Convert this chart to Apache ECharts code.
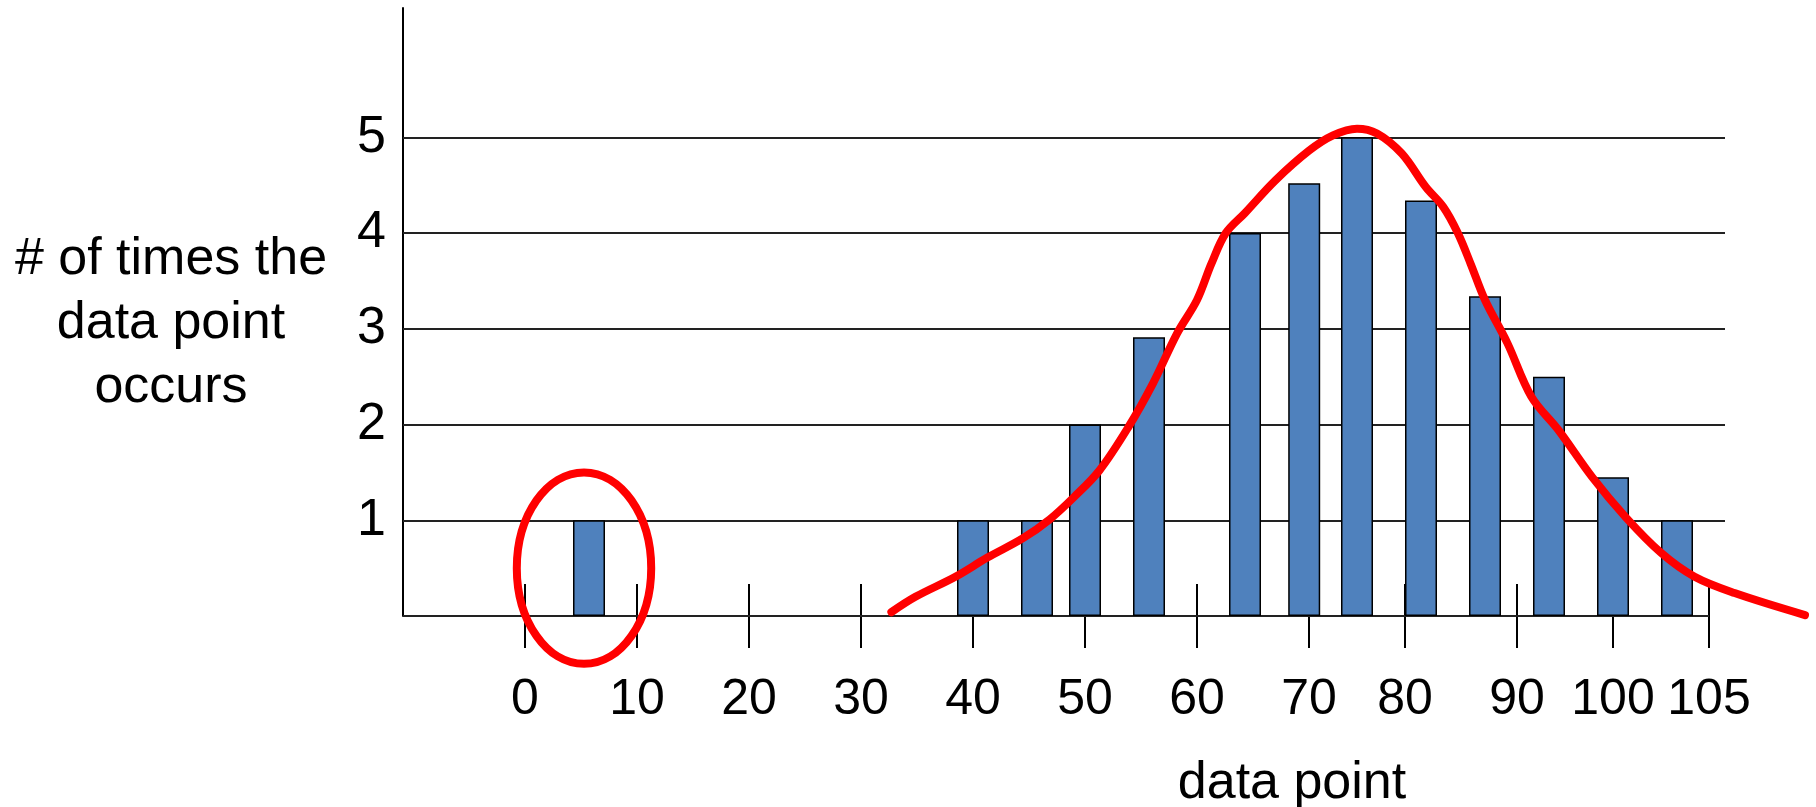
<!DOCTYPE html>
<html><head><meta charset="utf-8">
<script src="https://cdn.jsdelivr.net/npm/echarts@6/dist/echarts.min.js"></script>
<style>html,body{margin:0;padding:0;background:#fff}#c{width:1816px;height:807px}</style>
</head><body><div id="c"></div>
<script>
// x axis is a hand-drawn, uneven scale: each tick label sits at a "slot" position
const tickLabels = ['0','10','20','30','40','50','60','70','80','90','100','105'];
const tickSlots  = [0, 7, 14, 21, 28, 35, 42, 49, 55, 62, 68, 74];
const xMin = -7.625, xMax = 80.5, gridEnd = 75;
const yTickValues = [1, 2, 3, 4, 5];
const yTitle = '# of times the\ndata point\noccurs';
const xTitle = 'data point';

// bars (frequency of each data point)
const barSlots  = [4, 28, 32, 35, 39, 45, 48.7, 52, 56, 60, 64, 68, 72];
const barCounts = [1, 1, 1, 2, 2.91, 4, 4.52, 5, 4.34, 3.34, 2.5, 1.45, 1];

// hand-drawn red curve
const curveSlots  = [22.9, 24.4, 26.9, 28.9, 31.1, 32.8, 34.3, 35.9, 37.7, 39.25, 40.75, 42.0, 42.9, 43.8, 45.0, 46.9, 49.0, 50.5, 52.0, 53.25, 54.8, 56.3, 57.4, 58.3, 59.1, 60.0, 61.4, 62.9, 64.6, 66.7, 68.8, 71.0, 73.1, 75.6, 80.0];
const curveCounts = [0.04, 0.20, 0.41, 0.61, 0.81, 1.01, 1.24, 1.52, 1.97, 2.43, 2.95, 3.30, 3.68, 4.00, 4.21, 4.55, 4.86, 5.02, 5.09, 5.04, 4.83, 4.48, 4.27, 4.00, 3.68, 3.30, 2.85, 2.29, 1.94, 1.45, 1.03, 0.66, 0.41, 0.24, 0.01];

const FONT = "'Liberation Sans', Arial, Helvetica, sans-serif";
const chart = echarts.init(document.getElementById('c'), null, {renderer: 'canvas'});

const barData = barSlots.map((s, i) => [s, barCounts[i]]);
const curveData = curveSlots.map((s, i) => [s, curveCounts[i]]);
const lastTick = tickSlots[tickSlots.length - 1];

chart.setOption({
  animation: false,
  backgroundColor: '#ffffff',
  grid: {left: 403, right: 3, top: 8, bottom: 191, containLabel: false, outerBoundsMode: 'none'},
  graphic: [{
    type: 'text', x: 171, y: 228, z: 10,
    style: {text: yTitle, fontSize: 52, fontFamily: FONT, lineHeight: 64,
            fill: '#000', align: 'center', verticalAlign: 'top'}
  }],
  xAxis: [{
    type: 'value', min: xMin, max: xMax, position: 'bottom',
    axisLine: {show: false, onZero: false},
    splitLine: {show: false},
    axisTick: {show: true, customValues: tickSlots, length: 32, inside: false,
               lineStyle: {color: '#000', width: 2}},
    axisLabel: {customValues: tickSlots,
                formatter: v => tickLabels[tickSlots.indexOf(v)],
                margin: 59, fontSize: 50, color: '#000', fontFamily: FONT},
    name: xTitle, nameLocation: 'middle', nameGap: 168,
    nameTextStyle: {fontSize: 52, color: '#000', fontFamily: FONT, align: 'center',
                    verticalAlign: 'middle', padding: [0, 0, 0, 2 * (1292 - (403 + 1410 / 2))]}
  }, {
    type: 'value', min: xMin, max: xMax, position: 'bottom',
    axisLine: {show: false, onZero: false}, splitLine: {show: false},
    axisTick: {show: true, customValues: tickSlots, length: 32, inside: true,
               lineStyle: {color: '#000', width: 2}},
    axisLabel: {show: false}
  }],
  yAxis: {
    type: 'value', min: 0, max: 6.35, interval: 1,
    axisLine: {show: true, onZero: false, lineStyle: {color: '#000', width: 2}},
    axisTick: {show: false},
    splitLine: {show: false},
    axisLabel: {customValues: yTickValues, margin: 17, fontSize: 52, color: '#000', fontFamily: FONT}
  },
  series: [{
    type: 'bar', xAxisIndex: 0, data: barData, barWidth: 32, z: 3,
    itemStyle: {color: '#4F81BD', borderColor: '#000', borderWidth: 1.5},
    emphasis: {disabled: true},
    markLine: {
      silent: true, z: 1, symbol: ['none', 'none'], label: {show: false},
      lineStyle: {color: '#222', width: 2, type: 'solid'},
      emphasis: {disabled: true},
      data: yTickValues.map(v => [{coord: [xMin, v]}, {coord: [gridEnd, v]}]).concat([
        [{coord: [xMin, 0]}, {coord: [lastTick, 0]}]
      ])
    }
  }, {
    type: 'line', xAxisIndex: 0, data: curveData, smooth: 0.35, symbol: 'none', clip: false, z: 5,
    lineStyle: {color: '#FF0000', width: 8, cap: 'round', join: 'round'},
    emphasis: {disabled: true}
  }, {
    type: 'custom', xAxisIndex: 0, clip: false, z: 6,
    data: [[barSlots[0], barCounts[0] / 2]],
    renderItem: (params, api) => {
      const c = api.coord([api.value(0), api.value(1)]);
      const s = api.size([4.2, 1.0]);
      return {type: 'ellipse', shape: {cx: c[0] - 5, cy: c[1], rx: s[0], ry: s[1]},
              style: {fill: 'none', stroke: '#FF0000', lineWidth: 8}};
    }
  }]
});
</script>
</body></html>
